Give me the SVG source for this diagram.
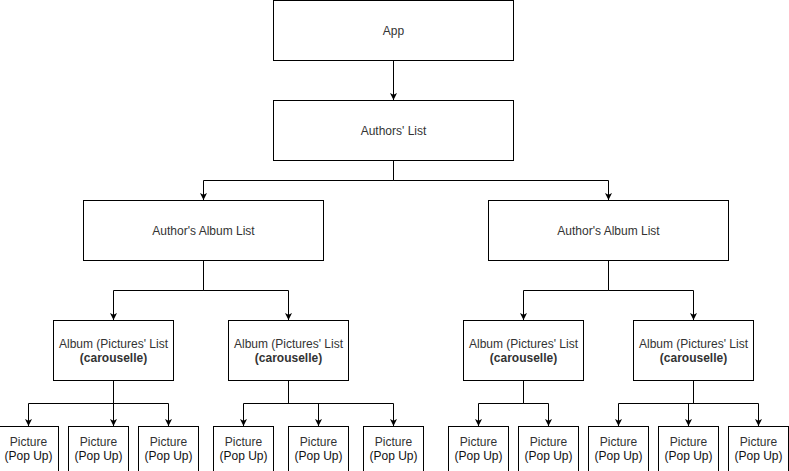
<svg xmlns="http://www.w3.org/2000/svg" width="789" height="471" viewBox="0 0 789 471">
<style>
.box{fill:#fff;stroke:#000;stroke-width:1}
.t{font-family:"Liberation Sans",Arial,sans-serif;font-size:12px;fill:#333;text-anchor:middle}
.b{font-weight:bold}
.k{fill:#111}
.c{fill:none;stroke:#000;stroke-width:1}
</style>
<defs>
<marker id="ah" viewBox="0 0 10 10" refX="10" refY="5" markerWidth="7" markerHeight="7" markerUnits="userSpaceOnUse" orient="auto">
<path d="M0,0 L10,5 L0,10 L2.5,5 Z" fill="#000"/>
</marker>
</defs>
<rect width="789" height="471" fill="#fff"/>
<g id="connectors" class="c" marker-end="url(#ah)">
<path d="M393.5,60.5 V100"/>
<path d="M393.5,160.5 V180.5 H203.5 V200"/>
<path d="M393.5,160.5 V180.5 H608.5 V200"/>
<path d="M203.5,260.5 V290.5 H113.5 V320"/>
<path d="M203.5,260.5 V290.5 H288.5 V320"/>
<path d="M608.5,260.5 V290.5 H523.5 V320"/>
<path d="M608.5,260.5 V290.5 H693.5 V320"/>
<path d="M113.5,380.5 V403.5 H28.5 V426"/>
<path d="M113.5,380.5 V426"/>
<path d="M113.5,380.5 V403.5 H168.5 V426"/>
<path d="M288.5,380.5 V403.5 H243.5 V426"/>
<path d="M288.5,380.5 V403.5 H318.5 V426"/>
<path d="M288.5,380.5 V403.5 H393.5 V426"/>
<path d="M523.5,380.5 V403.5 H478.5 V426"/>
<path d="M523.5,380.5 V403.5 H548.5 V426"/>
<path d="M693.5,380.5 V403.5 H618.5 V426"/>
<path d="M693.5,380.5 V403.5 H688.5 V426"/>
<path d="M693.5,380.5 V403.5 H758.5 V426"/>
</g>
<g id="app"><rect class="box" x="273.5" y="0.5" width="240" height="60"/><text class="t" x="393.5" y="34.5">App</text></g>
<g id="authors"><rect class="box" x="273.5" y="100.5" width="240" height="60"/><text class="t" x="393.5" y="134.5">Authors' List</text></g>
<g id="albumlist1"><rect class="box" x="83.5" y="200.5" width="240" height="60"/><text class="t" x="203.5" y="234.5">Author's Album List</text></g>
<g id="albumlist2"><rect class="box" x="488.5" y="200.5" width="240" height="60"/><text class="t" x="608.5" y="234.5">Author's Album List</text></g>
<g id="album1"><rect class="box" x="53.5" y="320.5" width="120" height="60"/><text class="t" x="113.5" y="347.5">Album (Pictures' List</text><text class="t b" x="113.5" y="361.5">(carouselle)</text></g>
<g id="album2"><rect class="box" x="228.5" y="320.5" width="120" height="60"/><text class="t" x="288.5" y="347.5">Album (Pictures' List</text><text class="t b" x="288.5" y="361.5">(carouselle)</text></g>
<g id="album3"><rect class="box" x="463.5" y="320.5" width="120" height="60"/><text class="t" x="523.5" y="347.5">Album (Pictures' List</text><text class="t b" x="523.5" y="361.5">(carouselle)</text></g>
<g id="album4"><rect class="box" x="633.5" y="320.5" width="120" height="60"/><text class="t" x="693.5" y="347.5">Album (Pictures' List</text><text class="t b" x="693.5" y="361.5">(carouselle)</text></g>
<g id="pic1"><rect class="box" x="-1.5" y="426.5" width="60" height="60"/><text class="t" x="28.5" y="446">Picture</text><text class="t k" x="28.5" y="460">(Pop Up)</text></g>
<g id="pic2"><rect class="box" x="68.5" y="426.5" width="60" height="60"/><text class="t" x="98.5" y="446">Picture</text><text class="t k" x="98.5" y="460">(Pop Up)</text></g>
<g id="pic3"><rect class="box" x="138.5" y="426.5" width="60" height="60"/><text class="t" x="168.5" y="446">Picture</text><text class="t k" x="168.5" y="460">(Pop Up)</text></g>
<g id="pic4"><rect class="box" x="213.5" y="426.5" width="60" height="60"/><text class="t" x="243.5" y="446">Picture</text><text class="t k" x="243.5" y="460">(Pop Up)</text></g>
<g id="pic5"><rect class="box" x="288.5" y="426.5" width="60" height="60"/><text class="t" x="318.5" y="446">Picture</text><text class="t k" x="318.5" y="460">(Pop Up)</text></g>
<g id="pic6"><rect class="box" x="363.5" y="426.5" width="60" height="60"/><text class="t" x="393.5" y="446">Picture</text><text class="t k" x="393.5" y="460">(Pop Up)</text></g>
<g id="pic7"><rect class="box" x="448.5" y="426.5" width="60" height="60"/><text class="t" x="478.5" y="446">Picture</text><text class="t k" x="478.5" y="460">(Pop Up)</text></g>
<g id="pic8"><rect class="box" x="518.5" y="426.5" width="60" height="60"/><text class="t" x="548.5" y="446">Picture</text><text class="t k" x="548.5" y="460">(Pop Up)</text></g>
<g id="pic9"><rect class="box" x="588.5" y="426.5" width="60" height="60"/><text class="t" x="618.5" y="446">Picture</text><text class="t k" x="618.5" y="460">(Pop Up)</text></g>
<g id="pic10"><rect class="box" x="658.5" y="426.5" width="60" height="60"/><text class="t" x="688.5" y="446">Picture</text><text class="t k" x="688.5" y="460">(Pop Up)</text></g>
<g id="pic11"><rect class="box" x="728.5" y="426.5" width="60" height="60"/><text class="t" x="758.5" y="446">Picture</text><text class="t k" x="758.5" y="460">(Pop Up)</text></g>
</svg>
